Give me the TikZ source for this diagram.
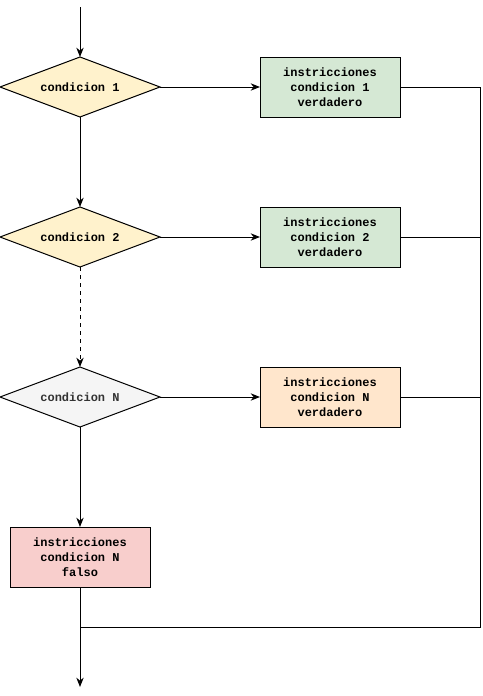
\documentclass[tikz,border=0pt]{standalone}
\usepackage{fontspec}
\setmonofont{Liberation Mono}
\usepackage{tikz}
\usetikzlibrary{arrows.meta, positioning, shapes.geometric}
\definecolor{condyellow}{HTML}{FFF2CC}
\definecolor{condgray}{HTML}{F5F5F5}
\definecolor{truegreen}{HTML}{D5E8D4}
\definecolor{trueorange}{HTML}{FFE6CC}
\definecolor{falsered}{HTML}{F8CECC}
\definecolor{textgray}{HTML}{333333}

\begin{document}
\begin{tikzpicture}[
			line width=0.75pt,
			>={Stealth[length=7pt, width=5.5pt]},
			font=\ttfamily\bfseries\fontsize{9}{11.25}\selectfont,
			decision/.style={diamond, draw, aspect=2.667, minimum width=120pt, minimum height=45pt, inner sep=0pt, outer sep=0pt, align=center},
			action/.style={rectangle, draw, minimum width=105pt, minimum height=45pt, inner sep=0pt, outer sep=0pt, align=center},
			flow/.style={->}
		]
		\useasboundingbox (0,0) rectangle (361.5pt,-522pt);
		% Conditions
		\node[decision, fill=condyellow] (cond1) at (60pt,-65.25pt) {condicion 1};
		\node[decision, fill=condyellow, below=67.5pt of cond1] (cond2) {condicion 2};
		\node[decision, fill=condgray, text=textgray, below=75pt of cond2] (condN) {condicion N};
		
		% Branches
		\node[action, fill=truegreen, right=75pt of cond1] (true1) {instricciones\\condicion 1\\verdadero};
		\node[action, fill=truegreen, right=75pt of cond2] (true2) {instricciones\\condicion 2\\verdadero};
		\node[action, fill=trueorange, right=75pt of condN] (trueN) {instricciones\\condicion N\\verdadero};
		\node[action, fill=falsered, below=75pt of condN] (falseN) {instricciones\\condicion N\\falso};
		
		% Helper points
		\coordinate[above=37.5pt of cond1] (start);
		\coordinate[below=30pt of falseN] (join);
		\coordinate[below=75pt of falseN] (stop);
		\coordinate (rail) at ([xshift=60pt]true1.east);
		
		% Connectors
		\draw[flow] (start) -- (cond1);
		\draw[flow] (cond1) -- (true1);
		\draw[flow] (cond1) -- (cond2);
		\draw[flow] (cond2) -- (true2);
		\draw[flow, dashed] (cond2) -- (condN);
		\draw[flow] (condN) -- (trueN);
		\draw[flow] (condN) -- (falseN);
		\draw[flow] (falseN) -- (stop);
		\draw (true1) -- (rail) |- (join);
		\draw (true2.east) -- (true2.east -| rail);
		\draw (trueN.east) -- (trueN.east -| rail);
		\end{tikzpicture}
\end{document}
